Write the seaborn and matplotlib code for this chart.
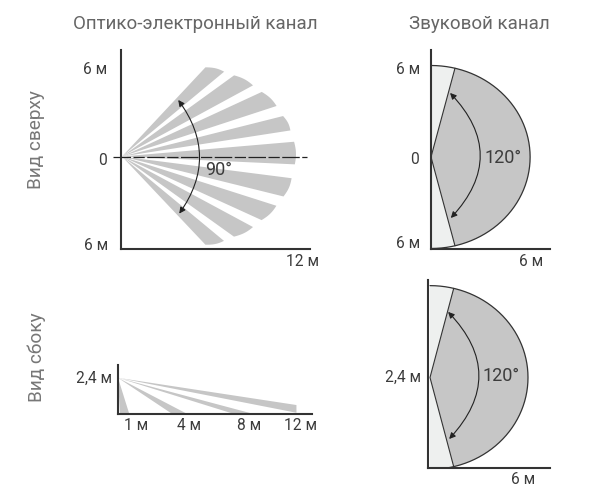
import matplotlib
matplotlib.use("Agg")
import matplotlib.pyplot as plt
import numpy as np
import seaborn as sns

# top view fan: beam edge angles (deg) and ranges (m)
fan_angle_a = [46.9, 35.9, 24.8, 14.1, 4.9, -7.3, -17.7, -28.3, -39.6]
fan_angle_b = [39.7, 28.5, 18.1, 8.8, -2.6, -13.9, -24.5, -35.6, -46.6]
fan_range_a = [8.47, 9.60, 10.68, 11.52, 11.98, 11.86, 11.24, 10.32, 9.18]
fan_range_b = [9.21, 10.34, 11.28, 11.82, 12.00, 11.54, 10.64, 9.55, 8.42]

# side view beams: where each one ends (m)
beam_x_low = [0.13, 3.6, 7.7, 12.0]
beam_y_low = [0.0, 0.0, 0.0, 0.05]
beam_x_high = [0.75, 4.6, 9.0, 12.0]
beam_y_high = [0.0, 0.0, 0.0, 0.57]

sound_reach = 6.5
sound_half = 6.0
sound_edge_deg = 76
mount_height = 2.4

GREY = "#c6c6c6"
LIGHT = "#eef0ef"
DARK = "#333333"
TEXT = "#3c3c3c"

sns.set_theme(style="white")
plt.rcParams["font.family"] = ["Roboto", "DejaVu Sans"]

fig = plt.figure(figsize=(6, 5), dpi=100)


def make_axes(left, right, top, bottom, x0, y0, sx, sy, lw=1.5):
    """Axes placed by pixel box, x0/y0 = pixel of data origin, sx/sy = px per metre."""
    ax = fig.add_axes([left / 600, 1 - bottom / 500, (right - left) / 600, (bottom - top) / 500])
    ax.set_xlim((left - x0) / sx, (right - x0) / sx)
    ax.set_ylim((y0 - bottom) / sy, (y0 - top) / sy)
    ax.set_xticks([])
    ax.set_yticks([])
    ax.patch.set_alpha(0)
    sns.despine(ax=ax)
    for side in ("left", "bottom"):
        ax.spines[side].set_linewidth(lw)
        ax.spines[side].set_color(DARK)
    return ax


def label(text, x, y, ha="center", size=11.2, color=TEXT, **kw):
    fig.text(x / 600, 1 - y / 500, text, ha=ha, va="center", fontsize=size, color=color, **kw)


def arc_arrow(ax, start, end, rad, lw=0.8):
    ax.annotate("", xy=end, xytext=start,
                arrowprops=dict(arrowstyle="<|-|>", connectionstyle=f"arc3,rad={rad}",
                                color="#222222", lw=lw, shrinkA=0, shrinkB=0, mutation_scale=9))


def draw_sound(ax, cy, ry):
    # light half ellipse with the darker covered sector on top
    t = np.radians(np.linspace(-90, 90, 181))
    ax.fill(sound_reach * np.cos(t), cy + ry * np.sin(t), color=LIGHT, lw=0)
    t2 = np.radians(np.linspace(-sound_edge_deg, sound_edge_deg, 153))
    xs = sound_reach * np.cos(t2)
    ys = cy + ry * np.sin(t2)
    ax.fill(np.r_[0, xs], np.r_[cy, ys], color=GREY, lw=0)
    sns.lineplot(x=np.r_[xs[0], 0, xs[-1]], y=np.r_[ys[0], cy, ys[-1]], sort=False, estimator=None,
                 color=DARK, lw=0.8, ax=ax)
    sns.lineplot(x=sound_reach * np.cos(t), y=cy + ry * np.sin(t), sort=False, estimator=None,
                 color=DARK, lw=0.9, ax=ax)


# top view, optical channel
s1 = 173 / 12
ax1 = make_axes(120.5, 310, 50, 249, 122, 156.5, s1, s1)
for a, b, ra, rb in zip(fan_angle_a, fan_angle_b, fan_range_a, fan_range_b):
    ang = np.linspace(a, b, 12)
    rng = np.linspace(ra, rb, 12) + 0.08 * np.sin(np.linspace(0, np.pi, 12))
    xs = rng * np.cos(np.radians(ang))
    ys = rng * np.sin(np.radians(ang))
    ax1.fill(np.r_[0, xs], np.r_[0, ys], color=GREY, lw=0)
sns.lineplot(x=[-0.65, 12.8], y=[0, 0], color="#222222", lw=0.9, ax=ax1,
             linestyle=(0, (14, 2, 9, 2)), estimator=None)
ax1.lines[-1].set_clip_on(False)
arc_arrow(ax1, (3.9, 3.92), (3.97, -3.96), -0.36)

# top view, sound channel
s2 = 91.5 / 6
ax2 = make_axes(431, 550, 50, 248.5, 431, 157, s2, s2)
draw_sound(ax2, 0, sound_half)
arc_arrow(ax2, (1.25, 4.2), (1.3, -4.0), -0.47)

# side view, optical channel
s3 = 14.87
ax3 = make_axes(117.5, 311.5, 365, 413.5, 118, 413.5, s3, s3)
for xl, yl, xh, yh in zip(beam_x_low, beam_y_low, beam_x_high, beam_y_high):
    ax3.fill([0, xl, xh], [mount_height, yl, yh], color=GREY, lw=0)

# side view, sound channel
ax4 = make_axes(428.5, 550, 280, 467.5, 430, 467.5, 98 / sound_reach, 90 / mount_height)
draw_sound(ax4, mount_height, 2.45)
arc_arrow(ax4, (1.2, 4.15), (1.27, 0.76), -0.47)

# headers and row titles
label("Оптико-электронный канал", 195, 24, size=13.5, color="#666666")
label("Звуковой канал", 479, 24, size=13.5, color="#666666")
label("Вид сверху", 36, 140, size=13.7, color="#777777", rotation=90)
label("Вид сбоку", 37, 357, size=13.7, color="#777777", rotation=90)

# axis and angle labels
label("6 м", 107, 70, ha="right")
label("0", 107, 160, ha="right")
label("6 м", 108, 246, ha="right")
label("12 м", 302, 262)
label("90°", 219, 170, size=13)
label("6 м", 420, 69, ha="right")
label("0", 419, 159, ha="right")
label("6 м", 420, 244, ha="right")
label("6 м", 531, 261)
label("120°", 503, 158, size=13)
label("2,4 м", 112, 378, ha="right")
label("1 м", 136, 426)
label("4 м", 189, 426)
label("8 м", 249, 426)
label("12 м", 301, 426)
label("2,4 м", 421, 377, ha="right")
label("6 м", 523, 480)
label("120°", 501, 376, size=13)

fig.savefig("out.png", dpi=100)
